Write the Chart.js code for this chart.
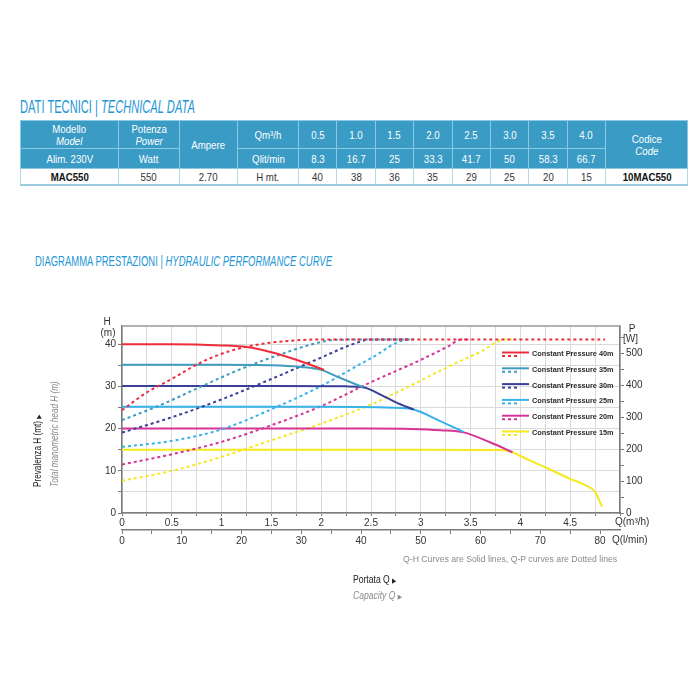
<!DOCTYPE html>
<html>
<head>
<meta charset="utf-8">
<script src="https://cdn.jsdelivr.net/npm/chart.js@4.4.1/dist/chart.umd.min.js"></script>
<style>
  body { margin: 0; background: #fff; }
  #page { position: relative; width: 700px; height: 700px; overflow: hidden; background: #fff; }
  .narrow { font-family: "Liberation Sans Narrow", "Liberation Sans", Arial, sans-serif; }
  .heading { position: absolute; color: #1e96d4; white-space: nowrap; transform-origin: 0 0; }
  #title1 { left: 20px; top: 97px; font-size: 19px; line-height: 19px; }
  #title2 { left: 35px; top: 253px; font-size: 15px; line-height: 15px; }
  #spec { position: absolute; left: 20px; top: 120px; width: 667px; border-collapse: collapse; table-layout: fixed; font-size: 11.5px; }
  #spec td { padding: 0; text-align: center; vertical-align: middle; line-height: 12px; white-space: nowrap; }
  #spec td span { display: inline-block; transform: scaleX(0.84); }
  #spec .hd td { background: #3a9bc5; color: #fff; border: 1px solid #8cc9e2; }
  #spec .r1 td { height: 27px; }
  #spec .r2 td { height: 19px; }
  #spec .body td { height: 15px; color: #333; border: 1px solid #b5d8e7; border-bottom: 2px solid #9ccbe0; }
  #spec .body td.b { font-weight: bold; color: #111; }
  #chartBox { position: absolute; left: 0; top: 300px; width: 700px; height: 260px; }
  #ytitle { position: absolute; left: 30px; top: 487px; transform-origin: 0 0; transform: rotate(-90deg) scaleX(0.78); white-space: nowrap; font-size: 10.5px; line-height: 15px; color: #222; }
  .gray { color: #8a8a8a; font-style: italic; }
  .tri { font-family: "DejaVu Sans", sans-serif; font-size: 7px; }
  #note { position: absolute; left: 403px; top: 554px; font: 8.7px/10px "Liberation Sans", Arial, sans-serif; color: #8a8a8a; white-space: nowrap; }
  #xtitle { position: absolute; left: 353px; top: 572px; font-size: 11px; line-height: 14px; white-space: nowrap; color: #222; transform-origin: 0 0; transform: scaleX(0.78); }
</style>
</head>
<body>
<div id="page">
  <div id="title1" class="heading narrow">DATI TECNICI | <i>TECHNICAL DATA</i></div>
  <table id="spec" class="narrow"></table>
  <div id="title2" class="heading narrow">DIAGRAMMA PRESTAZIONI | <i>HYDRAULIC PERFORMANCE CURVE</i></div>
  <div id="chartBox"><canvas id="perfChart" width="700" height="260"></canvas></div>
  <div id="ytitle" class="narrow">
    <div>Prevalenza H (mt) <span class="tri">&#9654;</span></div>
    <div class="gray">Total manometric head H (m)</div>
  </div>
  <div id="note">Q-H Curves are Solid lines, Q-P curves are Dotted lines</div>
  <div id="xtitle" class="narrow">
    <div>Portata Q <span class="tri">&#9654;</span></div>
    <div class="gray">Capacity Q <span class="tri">&#9654;</span></div>
  </div>
</div>

<script>
// table data
const tableFlow = ["0.5", "1.0", "1.5", "2.0", "2.5", "3.0", "3.5", "4.0"];
const tableLitMin = ["8.3", "16.7", "25", "33.3", "41.7", "50", "58.3", "66.7"];
const tableHead = ["40", "38", "36", "35", "29", "25", "20", "15"];

// chart data: Q in m3/h, H in m, P in W
const pressureLabels = ["40m", "35m", "30m", "25m", "20m", "15m"];
const headFlow = [
  [0, 0.5, 1.0, 1.25, 1.5, 1.75, 2.03],
  [0, 1.0, 1.5, 1.8, 2.0, 2.16, 2.42],
  [0, 1.5, 2.25, 2.42, 2.6, 2.75, 2.93],
  [0, 2.0, 2.8, 2.93, 3.2, 3.43],
  [0, 2.5, 2.9, 3.2, 3.43, 3.7, 3.92],
  [0, 3.0, 3.8, 3.92, 4.0, 4.25, 4.5, 4.65, 4.75, 4.82]
];
const headValues = [
  [40, 40, 39.7, 39.3, 38.1, 36.3, 33.9],
  [35.1, 35.1, 35.0, 34.6, 33.9, 32.3, 29.8],
  [30.1, 30.1, 30.0, 29.8, 28.0, 26.2, 24.5],
  [25.2, 25.2, 24.9, 24.5, 21.7, 19.2],
  [20.0, 20.0, 19.9, 19.6, 19.1, 16.7, 14.4],
  [15.0, 15.0, 14.9, 14.4, 13.5, 10.8, 8.1, 6.6, 5.0, 1.5]
];
const powerFlow = [
  [0, 0.25, 0.5, 0.75, 1.0, 1.25, 1.5, 1.75, 2.0, 4.85],
  [0, 0.4, 0.8, 1.2, 1.6, 1.9, 2.15, 2.9],
  [0, 0.5, 1.0, 1.5, 2.0, 2.3, 2.5, 2.9],
  [0, 0.5, 1.0, 1.5, 2.0, 2.5, 2.88, 2.95],
  [0, 0.5, 1.0, 1.5, 2.0, 2.5, 3.0, 3.25, 3.42, 3.5],
  [0, 0.5, 1.0, 1.5, 2.0, 2.5, 2.8, 3.3, 3.6, 3.85, 3.95]
];
const powerValues = [
  [322, 378, 420, 465, 499, 521, 534, 541, 544, 544],
  [291, 340, 397, 452, 498, 528, 543, 544],
  [252, 300, 356, 420, 487, 527, 544, 544],
  [207, 226, 262, 325, 398, 485, 544, 544],
  [152, 184, 223, 275, 335, 410, 480, 518, 544, 544],
  [101, 132, 176, 228, 280, 340, 384, 462, 505, 544, 544]
];

// axis ticks
const flowTicks = [0, 0.25, 0.5, 0.75, 1, 1.25, 1.5, 1.75, 2, 2.25, 2.5, 2.75, 3, 3.25, 3.5, 3.75, 4, 4.25, 4.5, 4.75, 5];
const flowLabels = [0, 0.5, 1, 1.5, 2, 2.5, 3, 3.5, 4, 4.5];
const litTicks = [0, 5, 10, 15, 20, 25, 30, 35, 40, 45, 50, 55, 60, 65, 70, 75, 80];
const litLabels = [0, 10, 20, 30, 40, 50, 60, 70, 80];
const headTicks = [0, 5, 10, 15, 20, 25, 30, 35, 40];
const headLabels = [0, 10, 20, 30, 40];
const powerTicks = [0, 50, 100, 150, 200, 250, 300, 350, 400, 450, 500, 550];
const powerLabels = [0, 100, 200, 300, 400, 500];

const colors = ["#ee2d3a", "#3d9cbf", "#3a3f98", "#35b3ea", "#d63496", "#f5e81c"];

// build the table
const cell = (v, cls) => '<td' + (cls ? ' class="' + cls + '"' : '') + '><span>' + v + '</span></td>';
const spec = document.getElementById("spec");
let html = '<colgroup><col style="width:98px"><col style="width:61px"><col style="width:58px"><col style="width:61px">';
tableFlow.forEach(() => { html += '<col style="width:38.4px">'; });
html += '<col style="width:82px"></colgroup>';
html += '<tr class="hd r1">' + cell("Modello<br><i>Model</i>") + cell("Potenza<br><i>Power</i>");
html += '<td rowspan="2"><span>Ampere</span></td>' + cell("Qm&sup3;/h");
tableFlow.forEach(v => { html += cell(v); });
html += '<td rowspan="2"><span>Codice<br><i>Code</i></span></td></tr>';
html += '<tr class="hd r2">' + cell("Alim. 230V") + cell("Watt") + cell("Qlit/min");
tableLitMin.forEach(v => { html += cell(v); });
html += '</tr>';
html += '<tr class="body">' + cell("MAC550", "b") + cell("550") + cell("2.70") + cell("H mt.");
tableHead.forEach(v => { html += cell(v); });
html += cell("10MAC550", "b") + '</tr>';
spec.innerHTML = html;

function fitWidth(id, target) {
  const el = document.getElementById(id);
  el.style.transform = "scaleX(" + (target / el.offsetWidth) + ")";
}
fitWidth("title1", 175);
fitWidth("title2", 297);

Chart.defaults.font.family = '"Liberation Sans", Arial, sans-serif';
Chart.defaults.font.size = 10;
Chart.defaults.color = "#333";

const datasets = [];
pressureLabels.forEach((label, i) => {
  datasets.push({
    label: "Q-H " + label,
    data: headFlow[i].map((q, k) => ({ x: q, y: headValues[i][k] })),
    yAxisID: "yH",
    borderColor: colors[i],
    borderWidth: 2,
    pointRadius: 0,
    cubicInterpolationMode: "monotone",
    fill: false
  });
  datasets.push({
    label: "Q-P " + label,
    data: powerFlow[i].map((q, k) => ({ x: q, y: powerValues[i][k] })),
    yAxisID: "yP",
    borderColor: colors[i],
    borderWidth: 2,
    borderDash: [3, 3],
    pointRadius: 0,
    cubicInterpolationMode: "monotone",
    fill: false
  });
});

const legendPlugin = {
  id: "pressureLegend",
  afterDatasetsDraw(chart) {
    const { ctx, chartArea } = chart;
    const x0 = chartArea.right - 118;
    const y0 = chartArea.top + 26.5;
    ctx.save();
    ctx.font = 'bold 7.3px "Liberation Sans", Arial, sans-serif';
    ctx.textBaseline = "middle";
    ctx.fillStyle = "#2a2a2a";
    pressureLabels.forEach((label, i) => {
      const y = y0 + i * 15.8;
      ctx.strokeStyle = colors[i];
      ctx.lineWidth = 2;
      ctx.setLineDash([]);
      ctx.beginPath(); ctx.moveTo(x0, y); ctx.lineTo(x0 + 27, y); ctx.stroke();
      ctx.setLineDash([3, 3]);
      ctx.beginPath(); ctx.moveTo(x0, y + 3.5); ctx.lineTo(x0 + 18, y + 3.5); ctx.stroke();
      ctx.fillText("Constant Pressure " + label, x0 + 30, y + 1.5);
    });
    ctx.restore();
  }
};

const framePlugin = {
  id: "frameLabels",
  afterDraw(chart) {
    const { ctx, chartArea: a } = chart;
    ctx.save();
    ctx.strokeStyle = "#999";
    ctx.lineWidth = 1.5;
    ctx.beginPath(); ctx.moveTo(a.left, a.top); ctx.lineTo(a.right, a.top); ctx.stroke();
    ctx.fillStyle = "#333";
    ctx.font = '10px "Liberation Sans", Arial, sans-serif';
    ctx.textBaseline = "middle";
    ctx.textAlign = "center";
    ctx.fillText("H", a.left - 15, a.top - 4);
    ctx.fillText("(m)", a.left - 14, a.top + 7);
    ctx.fillText("P", a.right + 12, a.top + 3);
    ctx.fillText("[W]", a.right + 10.5, a.top + 13.5);
    ctx.textAlign = "left";
    ctx.fillText("Q(m\u00b3/h)", a.right - 5, a.bottom + 9);
    ctx.fillText("Q(l/min)", a.right - 8, a.bottom + 27);
    ctx.restore();
  }
};

const gridColor = "#dadada";
const axisColor = "#7a7a7a";

new Chart(document.getElementById("perfChart"), {
  type: "line",
  data: { datasets: datasets },
  options: {
    responsive: false,
    animation: false,
    events: [],
    layout: { padding: { top: 26, left: 0, right: 0, bottom: 0 } },
    plugins: { legend: { display: false }, tooltip: { enabled: false } },
    scales: {
      x: {
        type: "linear", position: "bottom", min: 0, max: 5, weight: 0,
        afterBuildTicks: s => { s.ticks = flowTicks.map(v => ({ value: v })); },
        afterFit: s => { s.height = 17; },
        ticks: { autoSkip: false, maxRotation: 0, padding: 1, callback: v => flowLabels.includes(v) ? String(v) : "" },
        grid: { color: gridColor, tickLength: 3, tickColor: axisColor },
        border: { color: axisColor, width: 1.5 }
      },
      xl: {
        type: "linear", position: "bottom", min: 0, max: 5 * 1000 / 60, weight: 1,
        afterBuildTicks: s => { s.ticks = litTicks.map(v => ({ value: v })); },
        afterFit: s => { s.height = 30; },
        ticks: { autoSkip: false, maxRotation: 0, padding: 1, callback: v => litLabels.includes(v) ? String(v) : "" },
        grid: { drawOnChartArea: false, tickLength: 4, color: axisColor },
        border: { color: axisColor, width: 1.5 }
      },
      yH: {
        type: "linear", position: "left", min: 0, max: 44.3,
        afterBuildTicks: s => { s.ticks = headTicks.map(v => ({ value: v })); },
        afterFit: s => { s.width = 122; },
        ticks: { autoSkip: false, padding: 2, callback: v => headLabels.includes(v) ? String(v) : "" },
        grid: { color: gridColor, tickLength: 4, tickColor: axisColor },
        border: { color: axisColor, width: 1.5 }
      },
      yP: {
        type: "linear", position: "right", min: 0, max: 586,
        afterBuildTicks: s => { s.ticks = powerTicks.map(v => ({ value: v })); },
        afterFit: s => { s.width = 80; },
        ticks: { autoSkip: false, padding: 2, callback: v => powerLabels.includes(v) ? String(v) : "" },
        grid: { drawOnChartArea: false, tickLength: 4, color: axisColor },
        border: { color: axisColor, width: 1.5 }
      }
    }
  },
  plugins: [legendPlugin, framePlugin]
});
</script>
</body>
</html>
